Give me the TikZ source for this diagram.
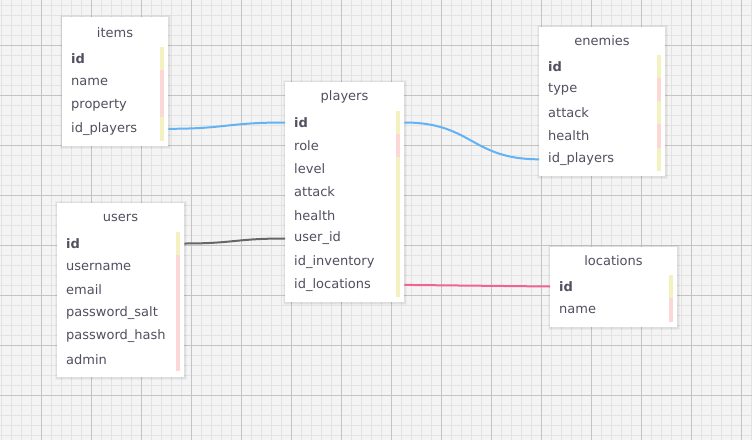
\documentclass[tikz,border=0pt]{standalone}
\usepackage{fontspec}
\setmainfont{DejaVu Sans}
\definecolor{bgc}{HTML}{F4F4F4}
\definecolor{gminor}{HTML}{E3E3E3}
\definecolor{gmajor}{HTML}{C4C4C4}
\definecolor{txt}{HTML}{505060}
\definecolor{keyc}{HTML}{F4F1C0}
\definecolor{attc}{HTML}{FDD6D6}
\definecolor{lblue}{HTML}{62B2F4}
\definecolor{ldark}{HTML}{666666}
\definecolor{lpink}{HTML}{EF6494}
\begin{document}
\begin{tikzpicture}[x=1pt,y=-1pt,
  minorline/.style={draw=gminor,line width=1pt},
  majorline/.style={draw=gmajor,line width=1pt},
  tbl/.style={draw=none,fill=white,anchor=north west,inner sep=0pt,
    preaction={draw=black,draw opacity=0.035,line width=5pt},
    preaction={draw=black,draw opacity=0.05,line width=2.6pt}},
  ttl/.style={text=txt,font=\fontsize{13}{14}\selectfont,inner sep=0pt},
  row/.style={anchor=west,text=txt,font=\fontsize{13}{14}\selectfont,
    align=left,inner xsep=9pt,inner ysep=0pt,minimum height=23pt},
  conn/.style={line width=2pt},
  key/.style={fill=keyc},
  att/.style={fill=attc}
]
\useasboundingbox (0,0) rectangle (752,440);
\fill[bgc] (0,0) rectangle (752,440);
\foreach \x in {1,11,...,751} \draw[minorline] (\x,0) -- (\x,440);
\foreach \y in {5,15,...,435} \draw[minorline] (0,\y) -- (752,\y);
\foreach \x in {41,91,...,741} \draw[majorline] (\x,0) -- (\x,440);
\foreach \y in {45,95,...,395} \draw[majorline] (0,\y) -- (752,\y);

% ---------- items
\node[tbl,minimum width=106pt,minimum height=129pt] (items) at (62,17) {};
\node[ttl] (items-t) at (115,33) {items};
\foreach \n/\t/\y in {r1/\textbf{id}/58.5,r2/name/82,r3/property/105.5,r4/id\_players/128.8}
  \node[row,text width=88pt] (items-\n) at (62,\y) {\t};
% ---------- players
\node[tbl,minimum width=119pt,minimum height=220pt] (players) at (285,82) {};
\node[ttl] (players-t) at (344.5,97) {players};
\foreach \n/\t/\y in {r1/\textbf{id}/122.5,r2/role/145.7,r3/level/168.9,r4/attack/192.1,r5/health/215.3,r6/user\_id/238.5,r7/id\_inventory/261.7,r8/id\_locations/284.9}
  \node[row,text width=101pt] (players-\n) at (285,\y) {\t};
% ---------- users
\node[tbl,minimum width=127pt,minimum height=174pt] (users) at (57,203) {};
\node[ttl] (users-t) at (120.5,218) {users};
\foreach \n/\t/\y in {r1/\textbf{id}/243.5,r2/username/266.7,r3/email/289.9,r4/password\_salt/313.1,r5/password\_hash/336.3,r6/admin/359.5}
  \node[row,text width=109pt] (users-\n) at (57,\y) {\t};
% ---------- enemies
\node[tbl,minimum width=126pt,minimum height=149pt] (enemies) at (539,27) {};
\node[ttl] (enemies-t) at (602,41) {enemies};
\foreach \n/\t/\y in {r1/\textbf{id}/66.5,r2/type/89.7,r3/attack/112.9,r4/health/136.1,r5/id\_players/159.3}
  \node[row,text width=108pt] (enemies-\n) at (539,\y) {\t};
% ---------- locations
\node[tbl,minimum width=127pt,minimum height=80pt] (locations) at (550,247) {};
\node[ttl] (locations-t) at (613.5,261) {locations};
\foreach \n/\t/\y in {r1/\textbf{id}/286.5,r2/name/310}
  \node[row,text width=109pt] (locations-\n) at (550,\y) {\t};

% ---------- colour bars
\foreach \tb/\r/\s in {items/r1/key,items/r2/att,items/r3/att,items/r4/key,
  players/r1/key,players/r2/att,players/r3/key,players/r4/key,players/r5/key,players/r6/key,players/r7/key,players/r8/key,
  users/r1/key,users/r2/att,users/r3/att,users/r4/att,users/r5/att,users/r6/att,
  enemies/r1/key,enemies/r2/att,enemies/r3/key,enemies/r4/att,enemies/r5/key,
  locations/r1/key,locations/r2/att}
  \fill[\s] ([xshift=-8.5pt]\tb-\r.north east) rectangle ([xshift=-4.5pt]\tb-\r.south east);

% ---------- connectors
\draw[conn,lblue] (items-r4.east) .. controls +(58,0) and +(-58,0) .. (players-r1.west);
\draw[conn,lblue] (players-r1.east) .. controls +(68,0) and +(-68,0) .. (enemies-r5.west);
\draw[conn,ldark] (users-r1.east) .. controls +(50,0) and +(-50,0) .. (players-r6.west);
\draw[conn,lpink] (players-r8.east) .. controls +(73,0) and +(-73,0) .. (locations-r1.west);
\end{tikzpicture}
\end{document}
